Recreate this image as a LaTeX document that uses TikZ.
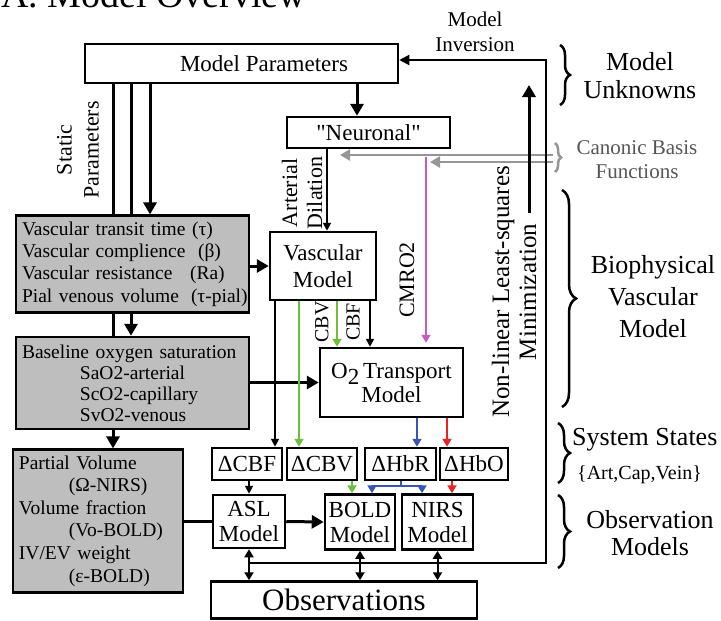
\documentclass[tikz,border=0pt]{standalone}
\usepackage{fontspec}
\setmainfont{Liberation Serif}
\usetikzlibrary{arrows.meta,decorations.pathreplacing,backgrounds}

\definecolor{boxgray}{RGB}{190,190,190}
\definecolor{linegray}{RGB}{150,150,150}
\definecolor{textgray}{RGB}{85,85,85}
\definecolor{cbvgreen}{RGB}{110,190,60}
\definecolor{cmromag}{RGB}{200,90,190}
\definecolor{hbrblue}{RGB}{55,85,180}
\definecolor{hbored}{RGB}{235,35,35}

\tikzset{
  box/.style={draw, line width=2.5pt, fill=white, inner sep=0pt, align=center,
              font=\fontsize{23pt}{26pt}\selectfont},
  gbox/.style={draw, line width=2.5pt, fill=boxgray, inner sep=6pt, align=left,
               font=\fontsize{19.5pt}{22.3pt}\selectfont},
  thickarr/.style={line width=3pt, -{Triangle[length=12pt,width=13pt]}},
  thickln/.style={line width=3pt},
  thinarr/.style={line width=1.8pt, -{Triangle[length=8pt,width=8pt]}},
  colarr/.style={line width=2pt, -{Triangle[length=8pt,width=9pt]}},
  dblarr/.style={line width=2pt, {Triangle[length=8pt,width=9pt]}-{Triangle[length=8pt,width=9pt]}},
  grayarr/.style={draw=linegray, line width=2.5pt, -{Triangle[length=10pt,width=11pt]}, linegray},
  bracestyle/.style={decorate, decoration={brace, amplitude=#1}, line width=2.5pt},
  lbl/.style={inner sep=0pt, align=center, font=\fontsize{#1}{26pt}\selectfont},
}

\begin{document}
\begin{tikzpicture}[x=1pt,y=-1pt]
\useasboundingbox (0,0) rectangle (721,621);

% title
\node[anchor=base west, inner sep=0pt, font=\fontsize{38pt}{40pt}\selectfont] (title) at (1,8) {A. Model Overview};

% main boxes
\node[box, minimum width=313pt, minimum height=39pt] (mp) at (241.5,63.5) {\hspace*{45pt}Model Parameters};
\node[box, minimum width=163pt, minimum height=31pt] (nr) at (368.5,132.5) {\textquotedbl Neuronal\textquotedbl};
\node[box, minimum width=106pt, minimum height=68pt, font=\fontsize{23pt}{27pt}\selectfont] (vm) at (323,266) {Vascular\\Model};
\node[box, minimum width=143pt, minimum height=69pt, font=\fontsize{23pt}{24pt}\selectfont] (o2) at (391.5,382.5) {O\raisebox{-6pt}{2}\,Transport\\Model};

\node[box, minimum width=70pt, minimum height=32pt] (dcbf) at (247,464) {ΔCBF};
\node[box, minimum width=70pt, minimum height=32pt] (dcbv) at (322,464) {ΔCBV};
\node[box, minimum width=71pt, minimum height=32pt] (dhbr) at (400.5,464) {ΔHbR};
\node[box, minimum width=68pt, minimum height=32pt] (dhbo) at (474,464) {ΔHbO};

\node[box, minimum width=72pt, minimum height=53pt, font=\fontsize{23pt}{25pt}\selectfont] (asl) at (249,521.5) {ASL\\Model};
\node[box, minimum width=70pt, minimum height=55pt, font=\fontsize{23pt}{25pt}\selectfont] (bold) at (360,522) {BOLD\\Model};
\node[box, minimum width=71pt, minimum height=55pt, font=\fontsize{23pt}{25pt}\selectfont] (nirs) at (437.5,522) {NIRS\\Model};

\node[box, minimum width=266pt, minimum height=37pt, font=\fontsize{31pt}{33pt}\selectfont] (obs) at (344,600) {Observations};

% grey parameter boxes
\node[gbox, text width=221pt, minimum height=92pt] (g1) at (132.5,264) {%
  \makebox[170pt][l]{Vascular transit time}(τ)\\
  \makebox[176pt][l]{Vascular complience}(β)\\
  \makebox[168pt][l]{Vascular resistance}(Ra)\\
  \makebox[169pt][l]{Pial venous volume}\rlap{(τ-pial)}};
\node[gbox, text width=221pt, minimum height=92pt, font=\fontsize{19.5pt}{21pt}\selectfont] (g2) at (132.5,383) {%
  Baseline oxygen saturation\\
  \hspace*{58pt}SaO2-arterial\\
  \hspace*{58pt}ScO2-capillary\\
  \hspace*{58pt}SvO2-venous};
\node[gbox, text width=158pt, minimum height=140pt, font=\fontsize{19.5pt}{22.6pt}\selectfont] (g3) at (98,521) {%
  Partial Volume\\
  \hspace*{50pt}(Ω-NIRS)\\
  Volume fraction\\
  \hspace*{50pt}(Vo-BOLD)\\
  IV/EV weight\\
  \hspace*{50pt}(ε-BOLD)};

% column and corner coordinates
\coordinate (sp1) at (113,0);
\coordinate (sp2) at (131,0);
\coordinate (sp3) at (150,0);
\coordinate (mpx) at (357,0);
\coordinate (adx) at (327,0);
\coordinate (cbfx) at (275,0);
\coordinate (cbvx) at (299,0);
\coordinate (cbvo) at (337,0);
\coordinate (cbfo) at (370,0);
\coordinate (hbrx) at (417,0);
\coordinate (hbox) at (447,0);
\coordinate (cbvb) at (352,0);
\coordinate (hbon) at (452,0);
\coordinate (fl) at (372,486);
\coordinate (fr) at (422,486);
\coordinate (cmtop) at (426,157);
\coordinate (gs1) at (553,155);
\coordinate (gt1) at (340,155);
\coordinate (gs2) at (553,162);
\coordinate (gt2) at (430,162);
\coordinate (invb) at (249,563);
\coordinate (invc) at (546,563);
\coordinate (invt) at (546,60);
\coordinate (nlb) at (529,213);
\coordinate (nlt) at (529,85);

% static parameters feeding the grey boxes (under the boxes)
\begin{scope}[on background layer]
  \draw[thickarr] (mp.south -| sp3) -- (g1.north -| sp3);
  \draw[thickarr] (mp.south -| sp2) -- (g2.north -| sp2);
  \draw[thickarr] (mp.south -| sp1) -- (g3.north -| sp1);
\end{scope}

% black flow
\draw[thickarr] (mp.south -| mpx) -- (nr.north -| mpx);
\draw[thinarr] (nr.south -| adx) -- (vm.north -| adx);
\draw[thickarr] (g1.east |- vm) -- (vm.west);
\draw[thickarr] (g2.east |- o2) -- (o2.west);
\draw[thickln] (g3.east |- asl) -- (asl.west);
\draw[thickarr] (asl.east) -- (bold.west);
\draw[thinarr] (vm.south -| cbfx) -- (dcbf.north -| cbfx);
\draw[thinarr] (vm.south -| cbfo) -- (o2.north -| cbfo);
\draw[thinarr] (dcbf.south -| asl) -- (asl.north);

% coloured flow
\draw[colarr, cbvgreen] (vm.south -| cbvx) -- (dcbv.north -| cbvx);
\draw[colarr, cbvgreen] (vm.south -| cbvo) -- (o2.north -| cbvo);
\draw[colarr, cbvgreen] (dcbv.south -| cbvb) -- (bold.north -| cbvb);
\draw[colarr, cmromag] (cmtop) -- ([yshift=4pt]o2.north -| cmtop);
\draw[colarr, hbrblue] (o2.south -| hbrx) -- (dhbr.north -| hbrx);
\draw[colarr, hbored] (o2.south -| hbox) -- (dhbo.north -| hbox);
\draw[colarr, hbored] (dhbo.south -| hbon) -- (nirs.north -| hbon);
\draw[colarr, hbrblue] (dhbr.south) |- (fl) -- (bold.north -| fl);
\draw[colarr, hbrblue] (dhbr.south) |- (fr) -- (nirs.north -| fr);

% canonic basis functions
\draw[grayarr] (gs1) -- (gt1);
\draw[grayarr] (gs2) -- (gt2);

% observations and model inversion loop
\draw[dblarr] (asl.south) -- (obs.north -| asl.south);
\draw[dblarr] (bold.south) -- (obs.north -| bold.south);
\draw[dblarr] (nirs.south) -- (obs.north -| nirs.south);
\draw[line width=2pt, -{Triangle[length=10pt,width=10pt]}] (invb) -- (invc) -- (invt) -- ([yshift=3.5pt]mp.east);
\draw[thickarr] (nlb) -- (nlt);

% connector labels
\node[lbl=22pt, rotate=90, font=\fontsize{22pt}{27pt}\selectfont] (stat) at (78,150) {Static\\Parameters};
\node[lbl=22pt, rotate=90, font=\fontsize{22pt}{25pt}\selectfont] (art) at (302,193) {Arterial\\Dilation};
\node[lbl=20pt, rotate=90] (cbvl) at (322,322) {CBV};
\node[lbl=20pt, rotate=90] (cbfl) at (353,322) {CBF};
\node[lbl=22pt, rotate=90] (cmro) at (407,280) {CMRO2};
\node[lbl=25pt, rotate=90, font=\fontsize{25pt}{27pt}\selectfont] (nlls) at (514,292) {Non-linear Least-squares\\Minimization};
\node[lbl=21pt, font=\fontsize{21pt}{25pt}\selectfont] (inv) at (475,32) {Model\\Inversion};

% right-hand braces and groups
\draw[bracestyle=10pt] (560,45) -- (560,105);
\draw[bracestyle=6pt, draw=linegray] (555,143) -- (555,172);
\draw[bracestyle=14pt] (562,190) -- (562,407);
\draw[bracestyle=12pt] (558,423) -- (558,483);
\draw[bracestyle=12pt] (558,495) -- (558,568);

\node[lbl=26pt, font=\fontsize{26pt}{28pt}\selectfont] (unk) at (640,76) {Model\\Unknowns};
\node[lbl=21pt, text=textgray, font=\fontsize{21pt}{24pt}\selectfont] (cbfn) at (637,160) {Canonic Basis\\Functions};
\node[lbl=26pt, font=\fontsize{26pt}{32pt}\selectfont] (bvm) at (653,297) {Biophysical\\Vascular\\Model};
\node[lbl=26pt, anchor=west] (sys) at (572,440) {System States};
\node[lbl=20pt, anchor=west] (acv) at (577,475) {\{Art,Cap,Vein\}};
\node[lbl=26pt, font=\fontsize{26pt}{27pt}\selectfont] (om) at (650,533) {Observation\\Models};
\end{tikzpicture}
\end{document}
